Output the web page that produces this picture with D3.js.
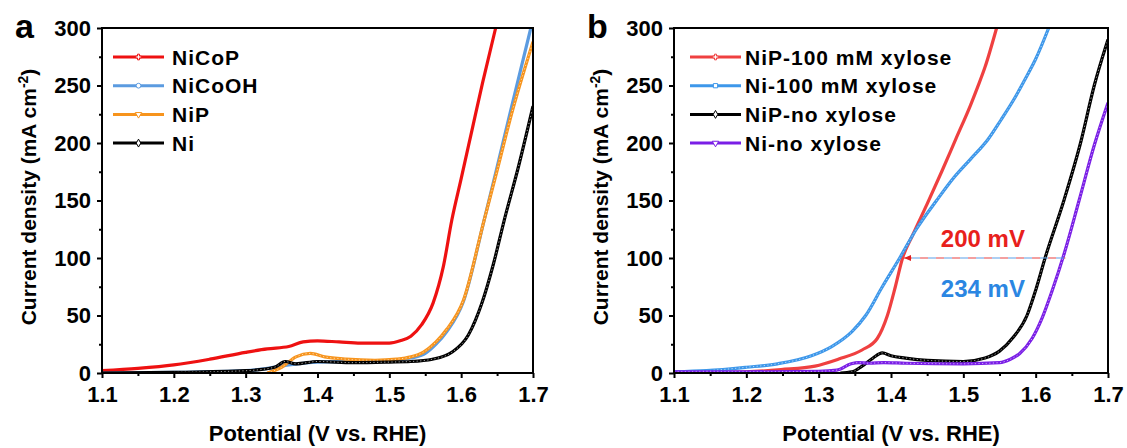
<!DOCTYPE html>
<html>
<head>
<meta charset="utf-8">
<script src="https://d3js.org/d3.v7.min.js"></script>
<style>
  body { margin: 0; background: #fff; }
  svg text { font-family: "Liberation Sans", Arial, sans-serif; font-weight: bold; }
</style>
</head>
<body>
<div id="chart"></div>
<script>
// ---- panel a data (potential V vs. RHE, current density mA cm-2) ----
const aNiCoP_V  = [1.10, 1.15, 1.20, 1.25, 1.30, 1.33, 1.36, 1.38, 1.40, 1.43, 1.46, 1.50, 1.515, 1.53, 1.545, 1.561, 1.575, 1.587, 1.60, 1.615, 1.63, 1.648];
const aNiCoP_J  = [2, 4, 7, 12, 18, 21, 23, 27, 28, 27, 26, 26, 28, 32, 42, 61, 92, 133, 169, 211, 253, 300];
const aNiCoOH_V = [1.10, 1.20, 1.30, 1.33, 1.36, 1.40, 1.45, 1.50, 1.53, 1.55, 1.565, 1.58, 1.603, 1.632, 1.65, 1.67, 1.697];
const aNiCoOH_J = [0, 0.5, 2, 4, 7, 9.5, 10, 10.5, 13, 17, 25, 36, 62, 133, 179, 231, 300];
const aNiP_V    = [1.33, 1.35, 1.37, 1.39, 1.41, 1.44, 1.48, 1.51, 1.53, 1.547, 1.565, 1.58, 1.603, 1.632, 1.65, 1.67, 1.70];
const aNiP_J    = [0, 5, 14, 17, 14, 12, 11, 12, 14, 18, 27, 38, 63, 133, 176, 225, 288];
const aNi_V     = [1.10, 1.20, 1.30, 1.34, 1.355, 1.37, 1.40, 1.45, 1.50, 1.53, 1.56, 1.587, 1.61, 1.629, 1.645, 1.66, 1.68, 1.70];
const aNi_J     = [0, 0.5, 2, 5, 10, 8, 10, 9, 9.5, 10, 12, 18, 33, 61, 95, 133, 180, 232];

// ---- panel b data ----
const bNiP100_V = [1.10, 1.20, 1.248, 1.295, 1.327, 1.36, 1.381, 1.395, 1.406, 1.416, 1.43, 1.45, 1.47, 1.49, 1.51, 1.52, 1.53, 1.546];
const bNiP100_J = [0, 1, 3, 6, 12, 20, 30, 50, 75, 100, 120, 147, 175, 204, 233, 249, 266, 300];
const bNi100_V  = [1.10, 1.145, 1.20, 1.243, 1.29, 1.318, 1.346, 1.365, 1.388, 1.412, 1.435, 1.463, 1.487, 1.51, 1.534, 1.552, 1.57, 1.585, 1.60, 1.618];
const bNi100_J  = [1, 2, 5, 8, 15, 23, 36, 50, 75, 100, 125, 150, 170, 186, 203, 220, 238, 255, 273, 300];
const bNiPno_V  = [1.33, 1.346, 1.36, 1.375, 1.388, 1.40, 1.42, 1.45, 1.50, 1.53, 1.55, 1.569, 1.588, 1.60, 1.613, 1.639, 1.662, 1.681, 1.70];
const bNiPno_J  = [0, 1, 6, 13, 17.5, 15, 13, 11, 10, 13, 19, 31, 50, 72, 100, 150, 200, 250, 290];
const bNino_V   = [1.10, 1.20, 1.30, 1.325, 1.345, 1.355, 1.37, 1.39, 1.42, 1.50, 1.55, 1.565, 1.578, 1.595, 1.609, 1.623, 1.64, 1.66, 1.681, 1.70];
const bNino_J   = [1, 1, 1.5, 2.5, 8, 9, 8.5, 9, 8.5, 8, 9, 12, 17, 30, 48, 72, 105, 150, 198, 235];

const xTicks = [1.1, 1.2, 1.3, 1.4, 1.5, 1.6, 1.7];
const yTicks = [0, 50, 100, 150, 200, 250, 300];
const xMinor = [1.15, 1.25, 1.35, 1.45, 1.55, 1.65];
const yMinor = [25, 75, 125, 175, 225, 275];

const W = 1127, H = 448;
const svg = d3.select("#chart").append("svg").attr("width", W).attr("height", H);

function zip(v, j) { return v.map((d, i) => [d, j[i]]); }

function drawPanel(p) {
  const x = d3.scaleLinear().domain([1.1, 1.7]).range([p.left, p.right]);
  const y = d3.scaleLinear().domain([0, 300]).range([373, 28]);
  const g = svg.append("g");

  // minor ticks
  const xm = g.append("g").attr("transform", "translate(0,373)")
    .call(d3.axisBottom(x).tickValues(xMinor).tickSize(3).tickFormat(""));
  const ym = g.append("g").attr("transform", `translate(${p.left},0)`)
    .call(d3.axisLeft(y).tickValues(yMinor).tickSize(3).tickFormat(""));
  // major ticks
  const xa = g.append("g").attr("transform", "translate(0,373)")
    .call(d3.axisBottom(x).tickValues(xTicks).tickSize(5).tickPadding(8).tickFormat(d3.format(".1f")));
  const ya = g.append("g").attr("transform", `translate(${p.left},0)`)
    .call(d3.axisLeft(y).tickValues(yTicks).tickSize(5).tickPadding(6).tickFormat(d3.format("d")));
  [xm, ym, xa, ya].forEach(a => {
    a.select(".domain").remove();
    a.selectAll("line").attr("stroke", "#000").attr("stroke-width", 2);
    a.selectAll("text").attr("font-size", 22).attr("fill", "#000")
      .attr("font-family", "'Liberation Sans', Arial, sans-serif").attr("font-weight", "bold");
  });

  // curves
  const line = d3.line().x(d => x(d[0])).y(d => y(d[1])).curve(d3.curveMonotoneX);
  const clip = "clip" + p.id;
  svg.append("clipPath").attr("id", clip).append("rect")
    .attr("x", p.left).attr("y", 26).attr("width", p.right - p.left).attr("height", 348);
  const cg = g.append("g").attr("clip-path", `url(#${clip})`);
  p.series.forEach(s => {
    cg.append("path").datum(zip(s.v, s.j)).attr("d", line)
      .attr("fill", "none").attr("stroke", s.color).attr("stroke-width", 3.2)
      .attr("stroke-linejoin", "round");
    if (s.texture) {
      cg.append("path").datum(zip(s.v, s.j)).attr("d", line)
        .attr("fill", "none").attr("stroke", "#fff").attr("stroke-opacity", 0.7)
        .attr("stroke-width", 0.9).attr("stroke-dasharray", "1.2,2.4");
    }
  });

  if (p.annot) p.annot(g, x, y);

  // frame
  g.append("rect").attr("x", p.left).attr("y", 28)
    .attr("width", p.right - p.left).attr("height", 345)
    .attr("fill", "none").attr("stroke", "#000").attr("stroke-width", 2);

  // legend
  const lg = g.append("g");
  p.series.forEach((s, i) => {
    const yy = 57 + i * 28.7;
    lg.append("line").attr("x1", p.legX).attr("x2", p.legX + 51).attr("y1", yy).attr("y2", yy)
      .attr("stroke", s.color).attr("stroke-width", 3);
    lg.append("path").attr("d", d3.symbol().type(s.sym).size(18)())
      .attr("transform", `translate(${p.legX + 25.5},${yy})` + (s.flip ? " rotate(180)" : ""))
      .attr("fill", "#fff").attr("stroke", s.color).attr("stroke-width", 1);
    lg.append("text").attr("x", p.legX + p.legGap).attr("y", yy + 7.5)
      .attr("font-size", 21).attr("letter-spacing", 1).text(s.name);
  });

  // axis titles
  g.append("text").attr("x", (p.left + p.right) / 2).attr("y", 441)
    .attr("text-anchor", "middle").attr("font-size", 22).text("Potential (V vs. RHE)");
  const yt = g.append("text")
    .attr("transform", `translate(${p.left - 66},197) rotate(-90)`)
    .attr("text-anchor", "middle").attr("font-size", 21);
  yt.append("tspan").text("Current density (mA cm");
  yt.append("tspan").attr("font-size", 14).attr("baseline-shift", "super").text("-2");
  yt.append("tspan").text(")");

  g.append("text").attr("x", p.left - 87).attr("y", 38).attr("font-size", 34).text(p.letter);
}

drawPanel({
  id: "a", letter: "a", left: 102, right: 533, legX: 113, legGap: 59,
  series: [
    { name: "NiCoP",  v: aNiCoP_V,  j: aNiCoP_J,  color: "#ee1111", sym: d3.symbolCross },
    { name: "NiCoOH", v: aNiCoOH_V, j: aNiCoOH_J, color: "#5b9be0", sym: d3.symbolCircle },
    { name: "NiP",    v: aNiP_V,    j: aNiP_J,    color: "#f7941d", sym: d3.symbolTriangle, flip: true, texture: true },
    { name: "Ni",     v: aNi_V,     j: aNi_J,     color: "#000000", sym: d3.symbolDiamond, texture: true }
  ]
});

drawPanel({
  id: "b", letter: "b", left: 674, right: 1108, legX: 690, legGap: 55,
  series: [
    { name: "NiP-100 mM xylose", v: bNiP100_V, j: bNiP100_J, color: "#ef4040", sym: d3.symbolCross },
    { name: "Ni-100 mM xylose",  v: bNi100_V,  j: bNi100_J,  color: "#3d97ea", sym: d3.symbolSquare, texture: true },
    { name: "NiP-no xylose",     v: bNiPno_V,  j: bNiPno_J,  color: "#000000", sym: d3.symbolDiamond, texture: true },
    { name: "Ni-no xylose",      v: bNino_V,   j: bNino_J,   color: "#7a1ee6", sym: d3.symbolTriangle, flip: true, texture: true }
  ],
  annot: (g, x, y) => {
    const x0 = x(1.418), x1 = x(1.641), yy = y(100);
    g.append("line").attr("x1", x0).attr("x2", x1).attr("y1", yy).attr("y2", yy)
      .attr("stroke", "#e84040").attr("stroke-width", 1.2).attr("stroke-dasharray", "8,8");
    g.append("line").attr("x1", x0 + 8).attr("x2", x1).attr("y1", yy).attr("y2", yy)
      .attr("stroke", "#5aa0e8").attr("stroke-width", 1.2).attr("stroke-dasharray", "8,8");
    g.append("path").attr("d", `M${x0},${yy} l7,-3 l0,6 z`).attr("fill", "#e02020");
    g.append("text").attr("x", x(1.527)).attr("y", y(110)).attr("text-anchor", "middle")
      .attr("font-size", 24).attr("fill", "#e8201c").text("200 mV");
    g.append("text").attr("x", x(1.527)).attr("y", y(66)).attr("text-anchor", "middle")
      .attr("font-size", 24).attr("fill", "#2b86e2").text("234 mV");
  }
});
</script>
</body>
</html>
